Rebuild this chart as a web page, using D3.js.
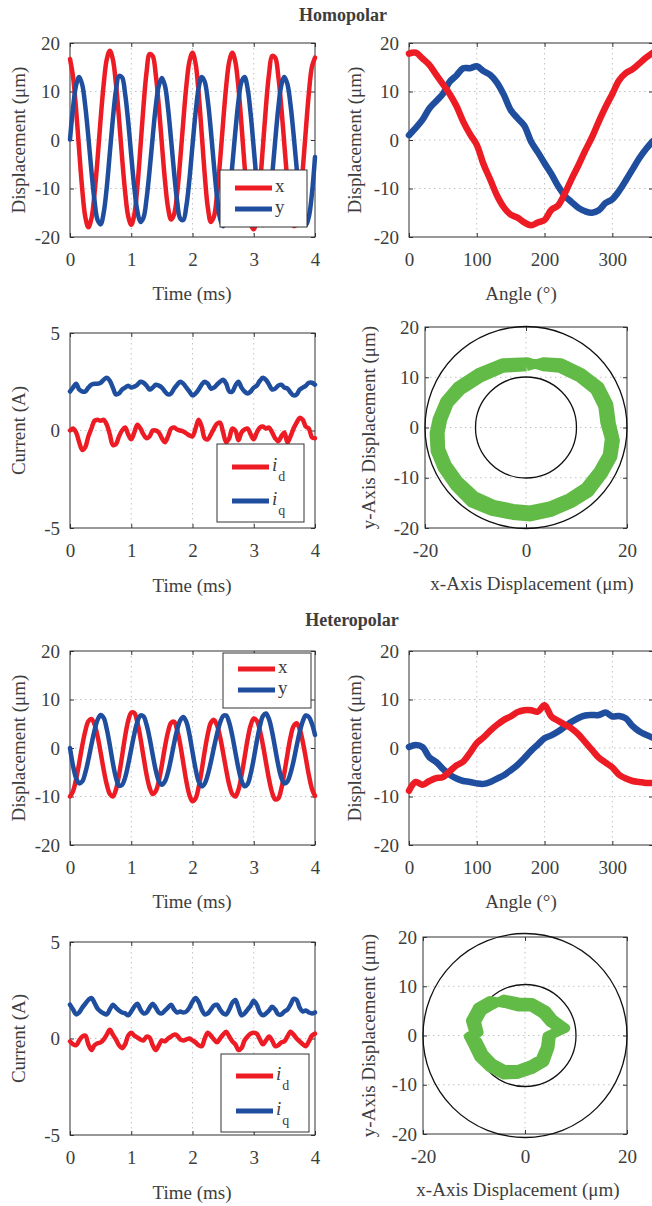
<!DOCTYPE html>
<html><head><meta charset="utf-8">
<script src="https://cdn.jsdelivr.net/npm/d3@7"></script>
<style>body{margin:0;background:#fff} svg{display:block}</style>
</head><body><script>
// sampling grids
var timeMs = d3.range(81).map(function (i) { return +(i * 0.05).toFixed(2); });
var angleDeg = d3.range(0, 361, 10);

// homopolar displacement vs time (um)
var homoX = [16.7, 13.0, 6.2, -2.2, -10.2, -15.9, -18.0, -16.2, -11.1, -3.9,
  4.3, 11.5, 16.6, 18.4, 16.6, 11.6, 4.5, -3.6, -10.7, -15.7,
  -17.5, -15.4, -9.6, -1.5, 7.0, 14.0, 17.7, 17.3, 13.5, 7.0,
  -0.8, -8.3, -13.9, -16.4, -15.3, -10.9, -4.0, 3.9, 11.2, 16.2,
  18.0, 15.8, 9.7, 1.4, -7.2, -13.9, -16.9, -15.8, -11.3, -4.3,
  3.7, 11.1, 16.2, 18.0, 16.1, 10.8, 3.1, -5.3, -12.5, -17.3,
  -18.4, -15.6, -9.5, -1.3, 7.0, 13.7, 17.3, 17.0, 13.2, 6.8,
  -1.0, -8.6, -14.6, -17.7, -17.3, -13.2, -6.2, 2.0, 9.7, 15.1,
  17.0];
var homoY = [0.1, 6.7, 11.3, 13.0, 11.4, 6.9, 0.6, -6.4, -12.5, -16.5,
  -17.4, -15.0, -9.8, -2.7, 4.4, 10.2, 13.2, 12.9, 9.5, 3.8,
  -3.2, -9.8, -14.7, -16.9, -16.0, -12.1, -6.2, 0.6, 6.9, 11.2,
  12.8, 11.2, 6.6, 0.1, -6.8, -12.7, -16.2, -16.5, -13.6, -8.1,
  -1.1, 5.6, 10.7, 13.0, 12.0, 8.1, 1.9, -5.2, -11.7, -16.2,
  -17.8, -16.2, -11.7, -5.2, 1.8, 8.0, 12.0, 13.0, 10.6, 5.3,
  -1.7, -8.8, -14.5, -17.5, -17.2, -13.5, -7.4, -0.2, 6.5, 11.3,
  13.0, 11.5, 7.3, 1.2, -5.7, -11.8, -16.0, -17.5, -15.8, -11.1,
  -3.5];

// homopolar displacement vs angle
var homoAngX = [17.8, 18.0, 16.8, 15.5, 13.5, 11.5, 9.5, 7.0, 3.8, 1.2, -1.0, -5.0, -8.2, -11.5, -13.9, -15.4,
  -16.0, -17.0, -17.6, -17.0, -16.5, -14.4, -13.5, -11.0, -8.0, -5.2, -2.2, 0.6, 3.8, 6.8, 9.5, 12.3,
  13.8, 14.6, 15.8, 17.0, 18.0];
var homoAngY = [1.0, 2.5, 4.2, 6.5, 8.0, 9.5, 12.0, 13.3, 14.8, 14.8, 15.2, 14.2, 13.4, 11.8, 9.3, 6.2,
  4.5, 3.0, -0.3, -2.5, -4.8, -7.0, -9.5, -11.5, -12.8, -14.0, -14.7, -15.0, -14.5, -13.0, -12.2, -10.5,
  -8.3, -6.0, -3.7, -1.8, -0.2];

// homopolar currents (A)
var homoId = [0.0, 0.1, -0.1, -0.6, -1.0, -0.85, -0.3, 0.1, 0.5, 0.55,
  0.5, 0.55, 0.3, -0.2, -0.75, -0.7, -0.3, 0.0, 0.15, -0.2,
  -0.45, -0.1, 0.3, 0.1, -0.2, -0.4, -0.3, 0.0, 0.0, -0.1,
  -0.4, -0.6, -0.3, 0.1, 0.15, 0.05, 0.0, -0.05, -0.15, -0.25,
  -0.3, 0.1, 0.55, 0.2, -0.4, -0.45, -0.2, 0.1, 0.35, 0.4,
  -0.1, -0.6, -0.4, 0.1, 0.0, -0.5, -0.1, 0.05, 0.1, -0.2,
  -0.45, -0.1, 0.15, 0.2, 0.1, 0.15, -0.1, -0.4, -0.55, -0.3,
  -0.1, -0.6, -0.3, 0.1, 0.4, 0.65, 0.55, 0.2, 0.1, -0.35,
  -0.4];
var homoIq = [2.0, 2.2, 2.4, 2.1, 2.0, 2.0, 2.2, 2.35, 2.4, 2.4,
  2.45, 2.6, 2.7, 2.55, 2.2, 1.85, 1.9, 2.1, 2.2, 2.3,
  2.2, 2.25, 2.35, 2.5, 2.45, 2.3, 2.1, 2.2, 2.35, 2.3,
  2.2, 2.0, 1.85, 1.9, 2.15, 2.35, 2.5, 2.4, 2.2, 2.0,
  1.8, 1.9, 2.1, 2.35, 2.5, 2.4, 2.15, 2.2, 2.35, 2.5,
  2.6, 2.4, 2.0, 2.0, 2.3, 2.5, 2.2, 2.0, 1.9, 2.0,
  2.2, 2.3, 2.55, 2.7, 2.6, 2.35, 2.1, 2.15, 2.3, 2.35,
  2.2, 2.15, 1.95, 1.8, 1.85, 2.1, 2.2, 2.3, 2.45, 2.45,
  2.35];

// homopolar orbit (two revolutions)
var homoOrbX = [0.1, -4.5, -9.0, -12.8, -15.2, -16.5, -17.0, -16.9, -15.6, -13.3, -10.1, -6.4, -2.5, 0.8, 4.7, 8.5,
  11.7, 14.3, 16.1, 16.5, 15.6, 15.2, 13.6, 10.5, 6.6, 3.4,
  0.3, -4.6, -9.5, -13.6, -16.1, -17.6, -18.2, -18.0, -16.6, -14.2, -10.9, -6.8, -2.6, 0.9, 5.0, 9.1,
  12.6, 15.3, 17.2, 17.7, 16.9, 16.4, 14.6, 11.1, 7.0, 3.6, 0.1];
var homoOrbY = [12.1, 11.8, 9.8, 7.4, 4.8, 1.5, -1.0, -4.2, -7.4, -10.6, -13.6, -15.3, -16.1, -16.4, -15.6, -14.0,
  -11.9, -8.6, -5.4, -2.2, 1.0, 4.2, 7.4, 9.9, 11.8, 12.1,
  13.1, 12.9, 10.9, 8.2, 5.3, 1.7, -1.2, -4.7, -8.1, -11.6, -15.0, -16.7, -17.5, -17.8, -16.9, -15.1,
  -12.9, -9.3, -5.9, -2.6, 0.9, 4.6, 8.2, 10.9, 12.9, 13.1, 12.1];

// heteropolar displacement vs time
var heteroX = [-10.0, -8.9, -6.4, -3.1, 0.5, 3.5, 5.5, 6.0, 4.9, 2.4,
  -0.9, -4.5, -7.5, -9.5, -10.0, -8.6, -5.6, -1.7, 2.4, 5.6,
  7.3, 7.2, 5.3, 2.1, -1.8, -5.5, -8.2, -9.5, -8.9, -6.8,
  -3.5, 0.2, 3.3, 5.2, 5.4, 3.7, 0.7, -3.1, -6.9, -9.7,
  -11.0, -10.4, -8.1, -4.6, -0.6, 2.9, 5.2, 5.8, 4.7, 2.3,
  -1.0, -4.5, -7.6, -9.5, -10.0, -8.6, -5.7, -2.0, 1.8, 4.7,
  6.1, 5.6, 3.6, 0.6, -3.0, -6.5, -9.2, -10.6, -10.4, -8.4,
  -5.1, -1.3, 2.2, 4.5, 5.1, 3.9, 1.3, -2.1, -5.6, -8.4,
  -9.9];
var heteroY = [0.0, -3.7, -6.2, -7.3, -6.9, -5.1, -2.4, 0.7, 3.6, 5.8,
  6.8, 6.2, 3.9, 0.6, -3.1, -6.1, -7.8, -7.6, -6.1, -3.4,
  -0.2, 2.9, 5.4, 6.7, 6.5, 4.8, 2.0, -1.4, -4.6, -6.8,
  -7.6, -6.9, -5.0, -2.2, 1.0, 3.8, 5.7, 6.4, 5.4, 2.8,
  -0.8, -4.3, -6.9, -7.9, -7.3, -5.5, -2.9, 0.1, 2.9, 5.2,
  6.6, 6.7, 5.2, 2.5, -0.9, -4.2, -6.7, -7.9, -7.4, -5.3,
  -2.2, 1.4, 4.5, 6.6, 7.1, 5.9, 3.3, -0.1, -3.5, -6.1,
  -7.3, -6.9, -5.2, -2.7, 0.4, 3.3, 5.5, 6.7, 6.4, 5.0,
  2.7];

// heteropolar displacement vs angle
var heteroAngX = [-8.8, -7.0, -7.6, -6.8, -6.2, -6.0, -4.8, -3.6, -2.8, -1.0, 1.0, 2.2, 3.6, 4.8, 5.8, 6.5,
  7.4, 7.8, 7.8, 7.5, 8.8, 6.5, 5.6, 4.8, 4.0, 2.8, 1.2, -0.4, -2.0, -3.0, -4.0, -5.5,
  -6.3, -6.8, -7.0, -7.2, -7.2];
var heteroAngY = [0.2, 0.6, 0.2, -1.9, -2.9, -4.3, -5.5, -6.3, -6.8, -7.0, -7.3, -7.4, -7.0, -6.3, -5.6, -4.6,
  -3.5, -2.1, -0.6, 0.7, 2.0, 2.6, 3.4, 4.4, 5.4, 6.2, 6.7, 6.8, 6.8, 7.3, 6.5, 6.6,
  6.1, 4.5, 3.4, 2.7, 2.1];

// heteropolar currents
var heteroId = [-0.15, -0.3, -0.35, -0.1, 0.1, 0.15, -0.3, -0.6, -0.35, -0.25,
  -0.2, -0.05, 0.2, 0.45, 0.2, -0.05, -0.35, -0.5, -0.3, 0.15,
  0.3, 0.15, 0.05, -0.05, -0.1, 0.1, 0.05, -0.35, -0.6, -0.35,
  -0.1, -0.15, 0.0, 0.1, 0.2, 0.15, -0.05, -0.1, -0.05, 0.0,
  -0.1, -0.2, -0.35, -0.4, 0.0, 0.3, 0.15, -0.05, -0.2, 0.0,
  0.2, 0.35, 0.1, -0.15, -0.3, -0.6, -0.5, -0.1, 0.1, 0.25,
  0.3, 0.25, -0.05, -0.3, -0.1, 0.1, -0.1, -0.4, -0.35, -0.2,
  -0.15, 0.1, 0.35, 0.2, 0.0, -0.15, -0.3, -0.4, -0.15, 0.15,
  0.25];
var heteroIq = [1.75, 1.5, 1.25, 1.35, 1.6, 1.8, 2.0, 2.1, 1.85, 1.55,
  1.4, 1.3, 1.25, 1.5, 1.75, 1.6, 1.45, 1.35, 1.3, 1.2,
  1.4, 1.65, 1.8, 1.5, 1.3, 1.35, 1.6, 1.8, 1.6, 1.35,
  1.3, 1.45, 1.6, 1.75, 1.5, 1.35, 1.4, 1.35, 1.4, 1.6,
  1.9, 2.1, 1.9, 1.5, 1.25, 1.3, 1.5, 1.7, 1.75, 1.5,
  1.3, 1.25, 1.5, 1.85, 2.0, 1.6, 1.2, 1.3, 1.5, 1.7,
  1.95, 1.75, 1.35, 1.2, 1.3, 1.45, 1.65, 1.5, 1.25, 1.25,
  1.4, 1.5, 1.75, 2.05, 2.0, 1.6, 1.4, 1.45, 1.35, 1.3,
  1.35];

// heteropolar orbit (two revolutions)
var heteroOrbX = [-4.0, -1.4, 1.2, 3.5, 4.8, 7.0, 4.3, 4.0, 3.0, 1.0, -1.4, -4.0, -6.3, -8.0, -9.2, -10.2, -9.0, -9.5, -8.3, -6.3,
  -4.1, -1.3, 1.4, 4.2, 5.6, 8.0, 5.2, 4.9, 3.9, 1.4, -1.5, -4.2, -7.0, -9.1, -10.4, -11.1, -10.0, -10.7, -9.3, -6.9, -4.0];
var heteroOrbY = [6.5, 5.8, 5.8, 4.3, 2.7, 1.2, -0.1, -2.4, -4.8, -6.0, -6.9, -6.9, -5.6, -3.8, -1.3, 0.0, 0.6, 2.8, 5.0, 6.2,
  7.4, 6.8, 6.7, 5.1, 3.3, 1.5, 0.1, -2.5, -5.4, -6.9, -7.9, -8.0, -6.5, -4.4, -1.6, -0.2, 0.5, 3.0, 5.7, 7.1, 6.5];

// tick values
var timeTicks = [0, 1, 2, 3, 4];
var dispTicks = [-20, -10, 0, 10, 20];
var angleTicks = [0, 100, 200, 300];
var currTicks = [-5, 0, 5];
var orbXTicks = [-20, 0, 20];

var FONT = "'Liberation Serif','Times New Roman',serif";
var TXT = "#3d3d3d", RED = "#ED1C24", BLUE = "#1F4E9E", GREEN = "#62BB46";

var svg = d3.select("body").append("svg")
  .attr("width", 652).attr("height", 1206)
  .style("font-family", FONT);

function panel(p) {
  var x = d3.scaleLinear().domain(p.xDomain).range([p.left, p.right]);
  var y = d3.scaleLinear().domain(p.yDomain).range([p.bottom, p.top]);
  var g = svg.append("g");

  // dotted grid
  g.selectAll(".vg").data(p.xGrid).enter().append("line")
    .attr("x1", function (d) { return x(d); }).attr("x2", function (d) { return x(d); })
    .attr("y1", p.top).attr("y2", p.bottom)
    .attr("stroke", "#c2c2c2").attr("stroke-dasharray", "1.5,3.5");
  g.selectAll(".hg").data(p.yGrid).enter().append("line")
    .attr("y1", function (d) { return y(d); }).attr("y2", function (d) { return y(d); })
    .attr("x1", p.left).attr("x2", p.right)
    .attr("stroke", "#c2c2c2").attr("stroke-dasharray", "1.5,3.5");

  var fmt = function (d) { return String(d); };
  g.append("g").attr("transform", "translate(0," + p.bottom + ")")
    .call(d3.axisBottom(x).tickValues(p.xTicks).tickSize(-4).tickPadding(16).tickFormat(fmt));
  g.append("g").attr("transform", "translate(0," + p.top + ")")
    .call(d3.axisTop(x).tickValues(p.xTicks).tickSize(-4).tickFormat(""));
  g.append("g").attr("transform", "translate(" + p.left + ",0)")
    .call(d3.axisLeft(y).tickValues(p.yTicks).tickSize(-4).tickPadding(p.yPad || 10).tickFormat(fmt));
  g.append("g").attr("transform", "translate(" + p.right + ",0)")
    .call(d3.axisRight(y).tickValues(p.yTicks).tickSize(-4).tickFormat(""));
  g.selectAll(".domain").remove();
  g.selectAll(".tick line").attr("stroke", "#333");
  g.selectAll(".tick text").attr("fill", TXT)
    .style("font-size", "19px").style("font-family", FONT);

  g.append("rect")
    .attr("x", p.left).attr("y", p.top)
    .attr("width", p.right - p.left).attr("height", p.bottom - p.top)
    .attr("fill", "none").attr("stroke", "#333");

  g.append("text")
    .attr("x", p.xLabelX).attr("y", p.xLabelY)
    .attr("text-anchor", "middle").attr("fill", TXT)
    .style("font-size", "19px").text(p.xLabel);
  g.append("text")
    .attr("transform", "translate(" + p.yLabelX + "," + p.yLabelY + ") rotate(-90)")
    .attr("text-anchor", "middle").attr("dy", "0.35em").attr("fill", TXT)
    .style("font-size", "19px").text(p.yLabel);

  var data = g.append("g");
  return { g: g, data: data, x: x, y: y };
}

function series(pl, xs, ys, color, w) {
  var line = d3.line()
    .x(function (d) { return pl.x(d[0]); })
    .y(function (d) { return pl.y(d[1]); })
    .curve(d3.curveCatmullRom);
  pl.data.append("path")
    .datum(d3.zip(xs, ys))
    .attr("d", line)
    .attr("fill", "none").attr("stroke", color)
    .attr("stroke-width", w).attr("stroke-linejoin", "round").attr("stroke-linecap", "round");
}

function orbit(pl, xs, ys) {
  [20, 10].forEach(function (r) {
    pl.data.append("circle")
      .attr("cx", pl.x(0)).attr("cy", pl.y(0))
      .attr("r", pl.x(r) - pl.x(0))
      .attr("fill", "none").attr("stroke", "#111").attr("stroke-width", 1.3);
  });
  var line = d3.line()
    .x(function (d) { return pl.x(d[0]); })
    .y(function (d) { return pl.y(d[1]); })
    .curve(d3.curveLinear);
  pl.data.append("path")
    .datum(d3.zip(xs, ys))
    .attr("d", line)
    .attr("fill", "none").attr("stroke", GREEN)
    .attr("stroke-width", 9).attr("stroke-linejoin", "round");
}

function legend(pl, box, entries) {
  var lg = pl.g.append("g");
  lg.append("rect")
    .attr("x", box.x).attr("y", box.y).attr("width", box.w).attr("height", box.h)
    .attr("fill", "#fff").attr("stroke", "#333");
  entries.forEach(function (e) {
    lg.append("line")
      .attr("x1", box.x + 15).attr("x2", box.x + 52)
      .attr("y1", box.y + e.dy).attr("y2", box.y + e.dy)
      .attr("stroke", e.color).attr("stroke-width", 5);
    var t = lg.append("text")
      .attr("x", box.x + 55).attr("y", box.y + e.dy + 4)
      .attr("fill", TXT).style("font-size", "19px");
    if (e.sub) {
      t.append("tspan").style("font-style", "italic").text(e.label);
      t.append("tspan").attr("dx", 1).attr("dy", 10).style("font-size", "14px").text(e.sub);
    } else {
      t.text(e.label);
    }
  });
}

// titles
svg.append("text").attr("x", 343).attr("y", 21).attr("text-anchor", "middle")
  .attr("fill", TXT).style("font-size", "18px").style("font-weight", "bold").text("Homopolar");
svg.append("text").attr("x", 352).attr("y", 626).attr("text-anchor", "middle")
  .attr("fill", TXT).style("font-size", "18px").style("font-weight", "bold").text("Heteropolar");

function blocks(off, dX, dY, aX, aY, iD, iQ, oX, oY, leg1, leg3, o) {
  var p1 = panel({ left: 70, right: 315, top: 43 + off, bottom: 237 + off,
    xDomain: [0, 4], yDomain: [-20, 20], xTicks: timeTicks, yTicks: dispTicks,
    xGrid: [1, 2, 3], yGrid: [-10, 0, 10],
    xLabel: "Time (ms)", xLabelX: 192, xLabelY: 300 + off,
    yLabel: "Displacement (\u03bcm)", yLabelX: 18, yLabelY: 140 + off });
  series(p1, timeMs, dX, RED, 4.5);
  series(p1, timeMs, dY, BLUE, 4.5);
  legend(p1, leg1, [{ label: "x", color: RED, dy: leg1.d1 }, { label: "y", color: BLUE, dy: leg1.d2 }]);

  var p2 = panel({ left: 409, right: 653, top: 43 + off, bottom: 237 + off,
    xDomain: [0, 360], yDomain: [-20, 20], xTicks: angleTicks, yTicks: dispTicks,
    xGrid: [100, 200, 300], yGrid: [-10, 0, 10],
    xLabel: "Angle (\u00b0)", xLabelX: 521, xLabelY: 300 + off,
    yLabel: "Displacement (\u03bcm)", yLabelX: 354, yLabelY: 140 + off });
  series(p2, angleDeg, aY, BLUE, 6.5);
  series(p2, angleDeg, aX, RED, 6.5);

  var p3 = panel({ left: 70, right: 315, top: o.t3, bottom: o.b3,
    xDomain: [0, 4], yDomain: [-5, 5], xTicks: timeTicks, yTicks: currTicks,
    xGrid: [1, 2, 3], yGrid: [0],
    xLabel: "Time (ms)", xLabelX: 192, xLabelY: o.b3 + 64,
    yLabel: "Current (A)", yLabelX: 18, yLabelY: (o.t3 + o.b3) / 2 });
  series(p3, timeMs, iD, RED, 4.5);
  series(p3, timeMs, iQ, BLUE, 4.5);
  legend(p3, leg3, [{ label: "i", sub: "d", color: RED, dy: leg3.d1 }, { label: "i", sub: "q", color: BLUE, dy: leg3.d2 }]);

  var p4 = panel({ left: o.l4, right: 627, top: o.t4, bottom: o.b4,
    xDomain: [-20, 20], yDomain: [-20, 20], xTicks: orbXTicks, yTicks: dispTicks,
    xGrid: [0], yGrid: [-10, 0, 10], yPad: 6,
    xLabel: "x-Axis Displacement (\u03bcm)", xLabelX: o.xl4, xLabelY: o.b4 + 62,
    yLabel: "y-Axis Displacement (\u03bcm)", yLabelX: 368, yLabelY: (o.t4 + o.b4) / 2 });
  orbit(p4, oX, oY);
}

blocks(0, homoX, homoY, homoAngX, homoAngY, homoId, homoIq, homoOrbX, homoOrbY,
  { x: 220, y: 170, w: 87, h: 57, d1: 18, d2: 39 },
  { x: 217, y: 444, w: 87, h: 78, d1: 23, d2: 57 },
  { t3: 333, b3: 528, l4: 425, t4: 327, b4: 528, xl4: 532 });

blocks(608, heteroX, heteroY, heteroAngX, heteroAngY, heteroId, heteroIq, heteroOrbX, heteroOrbY,
  { x: 223, y: 653, w: 88, h: 55, d1: 16, d2: 37 },
  { x: 221, y: 1054, w: 88, h: 78, d1: 22, d2: 57 },
  { t3: 942, b3: 1135, l4: 423, t4: 937, b4: 1134, xl4: 518 });
</script></body></html>
